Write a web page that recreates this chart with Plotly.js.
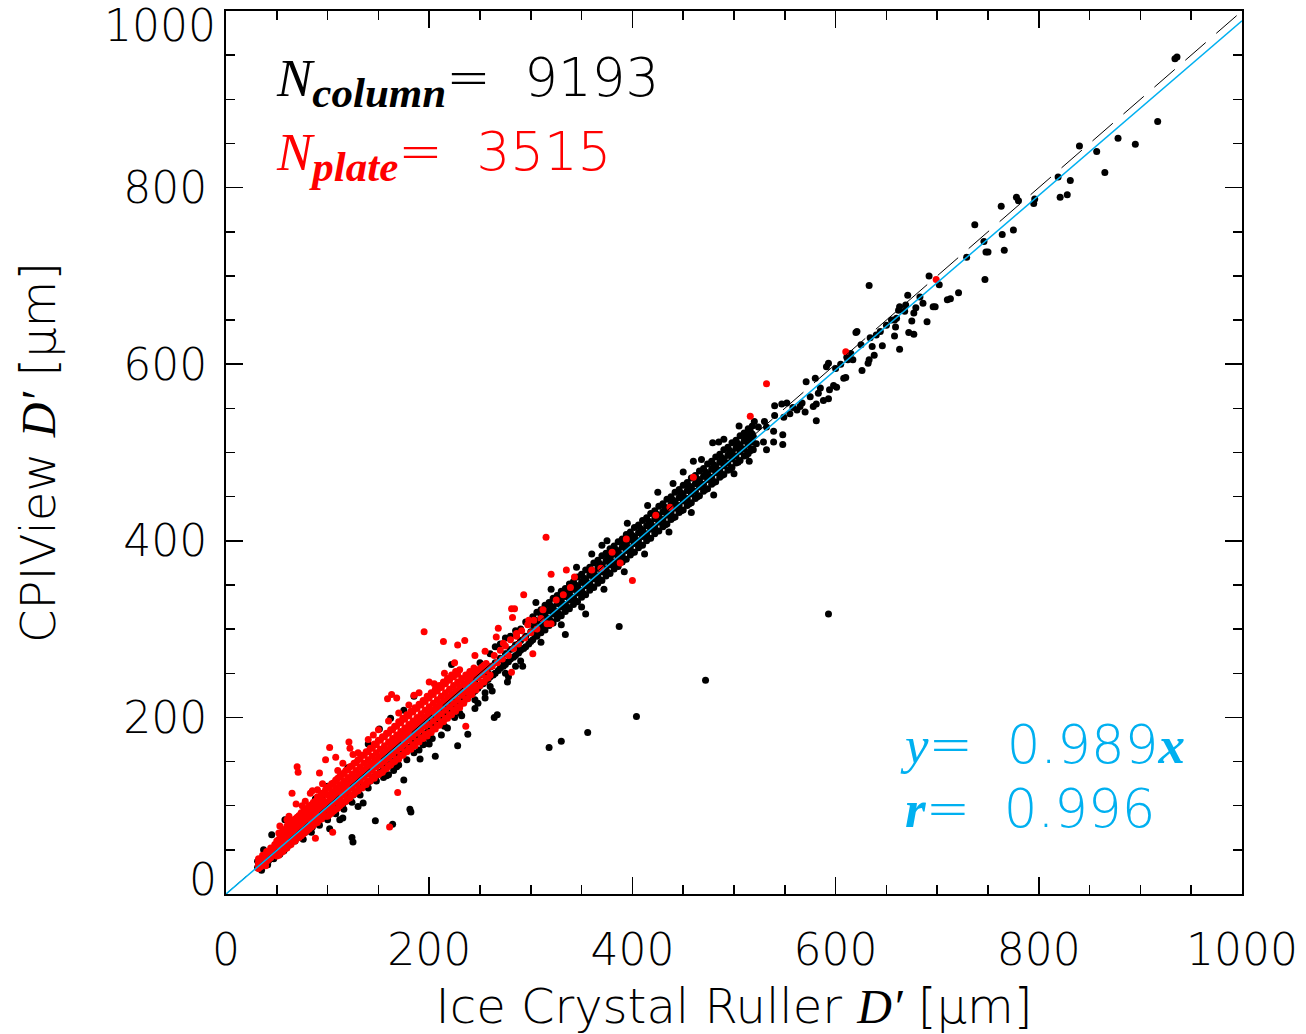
<!DOCTYPE html>
<html>
<head>
<meta charset="utf-8">
<script src="https://cdn.plot.ly/plotly-3.0.1.min.js"></script>
<style>
html,body{margin:0;padding:0;background:#fff;}
#chart{width:1306px;height:1034px;}
</style>
</head>
<body>
<div id="chart"></div>
<script>
// ---------------- DATA ----------------
const nColumn = 9193;
const nPlate = 3515;
const fitSlope = 0.989;
const fitR = 0.996;

const xTickVals = [0, 200, 400, 600, 800, 1000];
const xTickText = ["0", "200", "400", "600", "800", "1000"];
const yTickValsMid = [200, 400, 600, 800];
const yTickTextMid = ["200", "400", "600", "800"];
const yTickValsLow = [0];
const yTickTextLow = ["0"];
const yTickValsHigh = [1000];
const yTickTextHigh = ["1000"];

// column crystals (black), [x, y] in µm
const columnPts = [
[31,30],[33,29],[34,33],[36,33],[38,35],[40,37],[42,38],[44,40],[46,44],[48,43],[50,46],[52,49],[54,50],[56,52],[58,54],[60,55],
[37,50],[45,67],[58,84],[31,37],[35,27],[41,33],[47,40],[53,45],[57,49],[62,56],[64,58],[66,62],[68,60],[70,64],
[72,64],[75,68],[78,70],[80,72],[82,75],[85,76],[88,80],[90,80],[92,84],[95,86],[98,88],[100,90],[102,91],[105,94],[108,96],
[110,98],[112,100],[115,102],[118,105],[120,108],[122,110],[125,112],[128,114],[130,116],[132,120],[135,122],[138,124],
[140,127],[142,128],[145,132],[148,134],[150,136],
[76,62],[84,70],[92,78],[100,84],[108,91],[116,96],[124,104],[132,112],[140,120],[148,128],
[102,74],[112,84],[115,86],[124,64],[125,59],[130,99],[135,103],[147,83],[164,79],[160,135],[175,129],[181,96],[182,93],
[94,110],[80,96],[66,80],[72,88],[162,199],[175,208],[185,224],[151,187],[140,170],[120,143],[100,122],[88,108],
[152,138],[155,141],[158,144],[160,146],[163,148],[165,150],[168,153],[170,156],[173,158],[175,160],[178,163],[180,166],
[183,168],[185,170],[188,173],[190,176],[193,178],[195,180],[198,183],[200,186],[203,188],[205,190],[208,193],[210,196],
[213,198],[215,200],[218,203],[220,206],[223,208],[225,210],[228,213],[230,216],[233,218],[235,220],[238,223],[240,226],
[243,228],[245,230],[248,233],[250,236],[253,238],[255,240],[258,243],[260,246],[263,248],[265,250],[268,253],[270,256],
[273,258],[275,260],[278,263],[280,266],[283,268],[285,270],[288,273],[290,276],[293,278],[295,280],[298,283],[300,286],
[158,134],[170,146],[185,160],[200,176],[215,190],[230,205],[245,220],[260,235],[275,250],[290,264],[165,140],[195,170],
[225,200],[255,228],[285,258],
[155,132],[168,144],[178,152],[190,163],[203,176],[218,188],[232,202],[248,216],[262,230],[278,246],[292,258],
[183,175],[198,190],[213,205],[228,219],[243,236],[258,250],[273,264],[288,280],
[155,153],[165,163],[175,173],[185,183],[195,193],[205,203],[215,213],[225,222],[235,232],[245,242],[255,252],[265,262],
[275,272],[285,282],[295,292],[160,158],[170,168],[180,178],[190,188],[200,198],[210,208],[220,218],[230,228],[240,238],
[250,248],[260,257],[270,267],[280,277],[290,287],[300,297],
[240,250],[250,262],[260,272],[270,283],[280,292],[290,300],[300,310],[265,280],[275,290],[285,298],[295,308],
[194,169],[206,156],[191,153],[228,168],[238,181],[222,260],[264,200],[267,203],[277,240],[245,210],[255,222],[212,180],[200,170],
[302,288],[302,297],[302,305],[302,314],[306,292],[306,301],[306,309],[306,319],[310,296],[310,304],[310,313],[310,322],
[314,299],[314,309],[314,316],[314,327],[318,304],[318,312],[318,321],[318,330],[322,307],[322,317],[322,324],[322,335],
[326,312],[326,320],[326,329],[326,338],[330,315],[330,325],[330,332],[330,343],[334,320],[334,328],[334,337],[334,346],
[338,323],[338,333],[338,340],[338,351],[342,328],[342,336],[342,345],[342,354],[346,331],[346,341],[346,348],[346,359],
[350,336],[350,344],[350,353],[350,362],[354,339],[354,349],[354,356],[354,367],[358,344],[358,352],[358,361],[358,370],
[362,347],[362,357],[362,364],[362,375],[366,352],[366,360],[366,369],[366,378],[370,355],[370,365],[370,372],[370,383],
[374,360],[374,368],[374,377],[374,386],[378,363],[378,373],[378,380],[378,391],[382,368],[382,376],[382,385],[382,394],
[386,371],[386,381],[386,388],[386,399],[390,376],[390,384],[390,393],[390,402],[394,379],[394,389],[394,396],[394,407],
[398,384],[398,392],[398,401],[398,410],[402,387],[402,397],[402,404],[402,415],[406,392],[406,400],[406,409],[406,418],
[410,395],[410,405],[410,412],[410,423],[414,400],[414,408],[414,417],[414,426],[418,403],[418,413],[418,420],[418,431],
[422,408],[422,416],[422,425],[422,434],[426,411],[426,421],[426,428],[426,439],[430,416],[430,424],[430,433],[430,442],
[434,419],[434,429],[434,436],[434,447],[438,424],[438,432],[438,441],[438,450],[442,427],[442,437],[442,444],[442,455],
[446,432],[446,440],[446,449],[446,458],[450,435],[450,445],[450,452],[450,463],[454,440],[454,448],[454,457],[454,466],
[458,443],[458,453],[458,460],[458,471],[462,448],[462,456],[462,465],[462,474],[466,451],[466,461],[466,468],[466,479],
[470,456],[470,464],[470,473],[470,482],[474,459],[474,469],[474,476],[474,487],[478,464],[478,472],[478,481],[478,490],
[482,467],[482,477],[482,484],[482,495],[486,472],[486,480],[486,489],[486,498],[490,475],[490,485],[490,492],[490,503],
[494,480],[494,488],[494,497],[494,506],[498,483],[498,493],[498,500],[498,511],[502,488],[502,496],[502,505],[502,514],
[506,491],[506,501],[506,508],[506,519],[510,496],[510,504],[510,513],[510,522],[514,499],[514,509],[514,516],[514,527],
[518,504],[518,512],[518,521],[518,530],
[304,294],[304,310],[312,302],[312,318],[320,309],[320,326],[328,317],[328,334],[336,325],[336,342],[344,332],[344,350],
[352,340],[352,358],[360,348],[360,366],[368,356],[368,374],[376,364],[376,382],[384,372],[384,390],[392,379],[392,398],
[400,387],[400,406],[408,395],[408,414],[416,403],[416,422],[424,411],[424,430],[432,418],[432,438],[440,426],[440,446],
[448,434],[448,454],[456,442],[456,462],[464,450],[464,470],[472,458],[472,478],[480,466],[480,486],[488,474],[488,494],
[496,481],[496,502],[504,489],[504,510],[512,497],[512,518],[516,502],[516,524],
[305,330],[320,345],[345,370],[360,385],[375,400],[395,420],[415,440],[440,465],[460,490],[485,512],[310,285],[330,305],
[350,325],[372,345],[392,365],[412,385],[436,410],[458,432],[480,452],[500,476],[515,490],[505,530],[370,395],[425,455],
[450,478],[468,492],[490,515],
[318,166],[330,173],[356,183],[387,303],[354,317],[334,294],[404,201],[472,242],[593,317],
[540,553],[547,555],[552,556],[558,551],[540,542],[549,540],[555,544],[562,548],[565,552],[539,524],[548,520],[548,509],
[539,512],[520,535],[530,535],[524,529],[532,529],[512,518],[519,518],[522,510],[529,512],[532,503],[519,503],[479,511],
[567,556],[570,546],[578,552],[581,555],[575,563],[583,567],[585,573],[588,559],[594,571],[571,580],[580,584],[581,536],
[598,576],[601,574],[593,561],[608,584],[610,585],[593,601],[591,597],[612,605],[611,608],[617,605],[626,593],[632,601],
[633,605],[638,610],[620,636],[621,637],[634,630],[636,620],[644,637],[646,621],[663,617],[677,634],[672,636],[690,648],
[675,649],[659,642],[658,632],[658,650],[660,652],[663,665],[662,661],[669,667],[677,658],[679,664],[686,669],[696,665],
[698,665],[671,678],[710,673],[692,700],[633,689],
[600,595],[605,600],[615,612],[625,622],[640,633],[650,644],[655,650],[668,660],[683,676],[702,690],
[713,674],[721,681],[729,721],[737,758],[746,739],[747,696],[748,727],[750,727],[763,779],[764,747],[766,729],[775,752],
[778,789],[780,785],[795,782],[796,787],[819,812],[821,789],[828,792],[831,808],[840,847],[857,841],[865,817],[878,856],
[895,849],[917,875],[934,946],[936,948]
];

// plate crystals (red), [x, y] in µm
const platePts = [
[32,29],[32,32],[32,36],[32,40],[36,33],[36,36],[36,40],[36,44],[40,37],[40,40],[40,44],[40,48],[44,41],[44,44],[44,48],[44,52],
[48,45],[48,48],[48,52],[48,56],
[52,44],[52,50],[52,56],[52,62],[52,69],[56,48],[56,54],[56,60],[56,66],[56,73],[60,52],[60,58],[60,64],[60,70],[60,77],
[64,56],[64,62],[64,68],[64,74],[64,81],[68,60],[68,66],[68,72],[68,78],[68,85],[72,64],[72,70],[72,76],[72,82],[72,89],
[76,68],[76,74],[76,80],[76,86],[76,93],[80,72],[80,78],[80,84],[80,90],[80,97],[84,76],[84,82],[84,88],[84,94],[84,101],
[88,80],[88,86],[88,92],[88,98],[88,105],[92,84],[92,90],[92,96],[92,102],[92,109],[96,88],[96,94],[96,100],[96,106],[96,113],
[100,88],[100,96],[100,104],[100,112],[100,121],[104,92],[104,100],[104,108],[104,116],[104,125],[108,96],[108,104],[108,112],[108,120],[108,129],
[112,100],[112,108],[112,116],[112,124],[112,133],[116,104],[116,112],[116,120],[116,128],[116,137],[120,108],[120,116],[120,124],[120,132],[120,141],
[124,112],[124,120],[124,128],[124,136],[124,145],[128,116],[128,124],[128,132],[128,140],[128,149],[132,120],[132,128],[132,136],[132,144],[132,153],
[136,124],[136,132],[136,140],[136,148],[136,157],[140,128],[140,136],[140,144],[140,152],[140,161],[144,132],[144,140],[144,148],[144,156],[144,165],
[148,136],[148,144],[148,152],[148,160],[148,169],[152,137],[152,146],[152,155],[152,164],[152,174],[156,141],[156,150],[156,159],[156,168],[156,178],
[160,145],[160,154],[160,163],[160,172],[160,182],[164,149],[164,158],[164,167],[164,176],[164,186],[168,153],[168,162],[168,171],[168,180],[168,190],
[172,157],[172,166],[172,175],[172,184],[172,194],[176,161],[176,170],[176,179],[176,188],[176,198],[180,165],[180,174],[180,183],[180,192],[180,202],
[184,169],[184,178],[184,187],[184,196],[184,206],[188,173],[188,182],[188,191],[188,200],[188,210],[192,177],[192,186],[192,195],[192,204],[192,214],
[196,181],[196,190],[196,199],[196,208],[196,218],[200,183],[200,192],[200,202],[200,212],[200,222],[204,187],[204,196],[204,206],[204,216],[204,226],
[208,191],[208,200],[208,210],[208,220],[208,230],[212,195],[212,204],[212,214],[212,224],[212,234],[216,199],[216,208],[216,218],[216,228],[216,238],
[220,203],[220,212],[220,222],[220,232],[220,242],[224,208],[224,216],[224,226],[224,236],[224,246],[228,212],[228,220],[228,230],[228,240],[228,249],
[232,216],[232,225],[232,234],[232,244],[236,221],[236,229],[236,238],[236,248],[240,226],[240,233],[240,242],[240,252],
[244,231],[244,238],[244,247],[244,256],[248,236],[248,245],[248,253],[252,240],[252,249],[252,257],[256,244],[256,253],[256,261],
[260,248],[260,258],
[34,31],[34,38],[42,39],[42,46],[50,43],[50,53],[50,60],[54,47],[54,58],[54,66],[58,51],[58,62],[58,72],[62,55],[62,66],[62,78],
[66,60],[66,70],[66,83],[70,63],[70,74],[70,87],[74,66],[74,79],[74,92],[78,70],[78,83],[78,96],[82,74],[82,87],[82,100],
[86,78],[86,91],[86,104],[90,81],[90,95],[90,110],[94,85],[94,99],[94,114],[98,88],[98,103],[98,118],[102,90],[102,106],[102,122],
[106,94],[106,110],[106,126],[110,97],[110,114],[110,131],[114,102],[114,118],[114,135],[118,105],[118,122],[118,140],
[122,109],[122,126],[122,144],[126,113],[126,130],[126,148],[130,117],[130,134],[130,152],[134,120],[134,138],[134,157],
[138,124],[138,142],[138,161],[142,128],[142,146],[142,165],[146,131],[146,150],[146,170],[150,135],[150,154],[150,174],
[154,138],[154,158],[154,178],[158,142],[158,162],[158,182],[162,146],[162,166],[162,186],[166,150],[166,170],[166,190],
[170,153],[170,174],[170,195],[174,157],[174,178],[174,199],[178,161],[178,182],[178,203],[182,164],[182,186],[182,207],
[186,168],[186,190],[186,211],[190,172],[190,194],[190,215],[194,176],[194,198],[194,219],[198,179],[198,202],[198,224],
[202,183],[202,206],[202,228],[206,187],[206,210],[206,232],[210,191],[210,214],[210,236],[214,195],[214,218],[214,240],
[218,199],[218,222],[218,244],[222,203],[222,226],[222,248],[226,207],[226,230],[226,252],[230,211],[230,234],[230,254],
[234,216],[234,238],[238,221],[238,244],[242,226],[242,248],[246,231],[246,251],[250,236],[250,255],[254,240],[254,259],[258,245],
[60,84],[75,100],[90,118],[110,140],[125,158],[140,175],[150,186],[170,205],[180,214],[190,228],[205,238],[215,250],
[225,262],[245,270],[255,275],[130,160],[115,148],[95,125],[78,105],[62,88],[200,240],[185,225],[160,196],[145,180],
[262,258],[264,270],[267,262],[270,276],[272,266],[275,281],[278,270],[280,288],[283,278],[286,292],[288,283],[291,298],
[294,290],[297,305],[300,296],[303,310],[306,300],[310,312],[312,322],[316,306],[320,306],[325,333],[332,339],[339,347],
[343,359],[360,367],[369,369],[298,310],[286,295],[273,284],[266,291],
[163,226],[159,221],[168,222],[102,166],[70,144],[71,138],[65,114],[92,137],[108,155],[121,172],[122,165],[98,152],
[83,114],[85,117],[69,102],[169,115],[161,76],[88,63],[105,70],[53,77],[39,32],
[315,404],[320,362],[335,367],[293,339],[400,355],[195,297],[214,286],[235,287],[228,282],[281,323],[284,323],[282,313],
[268,301],[281,251],[236,190],[302,272],[394,402],[380,387],[388,375],[423,429],[437,438],[460,472],[532,578],[516,541],
[610,614],[699,696]
];

// ---------------- CHART ----------------
const tickFont = {family: 'DejaVu Sans', size: 44, color: '#000', weight: 200};
const titleFont = {family: 'DejaVu Sans', size: 48, color: '#000', weight: 200};
const annFont = {family: 'DejaVu Sans', size: 53, weight: 200};
const serif = (s) => '<span style="font-family:\'Liberation Serif\';font-weight:normal">' + s + '</span>';
const subTxt = (s) => '<sub><span style="font-family:\'Liberation Serif\';font-size:43px"><b><i>' + s + '</i></b></span></sub>';

const lineX = [0, 1000];
const markerSize = 7;

const traces = [
  {type: 'scatter', mode: 'markers', x: columnPts.map(p => p[0]), y: columnPts.map(p => p[1]),
   marker: {color: '#000000', size: markerSize, line: {width: 0}}, hoverinfo: 'skip', showlegend: false},
  {type: 'scatter', mode: 'markers', x: platePts.map(p => p[0]), y: platePts.map(p => p[1]),
   marker: {color: '#ff0000', size: markerSize, line: {width: 0}}, hoverinfo: 'skip', showlegend: false},
  {type: 'scatter', mode: 'lines', x: lineX, y: lineX,
   line: {color: '#000000', width: 1, dash: '27px,14px'}, hoverinfo: 'skip', showlegend: false},
  {type: 'scatter', mode: 'lines', x: lineX, y: lineX.map(v => v * fitSlope),
   line: {color: '#00b0f0', width: 1.5}, hoverinfo: 'skip', showlegend: false},
  {type: 'scatter', mode: 'markers', x: [], y: [], yaxis: 'y2', showlegend: false, hoverinfo: 'skip'}
];

const axCommon = {
  range: [0, 1000], showgrid: false, zeroline: false, automargin: false,
  ticks: 'inside', ticklen: 17, tickwidth: 1.5, tickcolor: '#000',
  showline: true, linewidth: 2, linecolor: '#000', mirror: 'ticks',
  minor: {dtick: 50, tick0: 0, ticks: 'inside', ticklen: 9, tickwidth: 1.5, tickcolor: '#000', showgrid: false},
  tickfont: tickFont, tickmode: 'array'
};

const layout = {
  width: 1306, height: 1034,
  margin: {l: 226, r: 64, t: 11, b: 140},
  paper_bgcolor: '#ffffff', plot_bgcolor: '#ffffff',
  showlegend: false,
  xaxis: Object.assign({}, axCommon, {
    tickvals: xTickVals, ticktext: xTickText, ticklabelstandoff: 16,
    title: {text: 'Ice Crystal Ruller ' + serif('<i>D′</i>') + ' [μm]', font: titleFont, standoff: 18}
  }),
  yaxis: Object.assign({}, axCommon, {
    tickvals: yTickValsMid, ticktext: yTickTextMid, ticklabelstandoff: 8,
    title: {text: 'CPIView ' + serif('<i>D′</i>') + ' [μm]', font: titleFont, standoff: 52}
  }),
  yaxis2: {
    overlaying: 'y', side: 'left', range: [0, 1000], showgrid: false, zeroline: false, showline: false,
    ticks: '', automargin: false, tickfont: tickFont, tickmode: 'array', ticklabelstandoff: 8,
    tickvals: yTickValsLow, ticktext: yTickTextLow, ticklabelshift: -14
  },
  annotations: [
    {xref: 'paper', yref: 'y', x: 0, y: yTickValsHigh[0], xanchor: 'right', yanchor: 'middle', xshift: -8, yshift: -14,
     showarrow: false, text: yTickTextHigh[0], font: tickFont},
    {xref: 'x', yref: 'y', x: 47, y: 962, xanchor: 'left', yanchor: 'top', showarrow: false,
     text: serif('<i>N</i>') + subTxt('column') + '=&nbsp;&nbsp;' + nColumn,
     font: Object.assign({}, annFont, {color: '#000000'})},
    {xref: 'x', yref: 'y', x: 47, y: 878, xanchor: 'left', yanchor: 'top', showarrow: false,
     text: serif('<i>N</i>') + subTxt('plate') + '=&nbsp;&nbsp;' + nPlate,
     font: Object.assign({}, annFont, {color: '#ff0000'})},
    {xref: 'x', yref: 'y', x: 661, y: 169, xanchor: 'left', yanchor: 'middle', showarrow: false,
     text: serif('<i>y</i>') + '=&nbsp;&nbsp;' + fitSlope.toFixed(3) + serif('<b><i>x</i></b>'),
     font: Object.assign({}, annFont, {color: '#00b0f0'})},
    {xref: 'x', yref: 'y', x: 666, y: 97, xanchor: 'left', yanchor: 'middle', showarrow: false,
     text: serif('<b><i>r</i></b>') + '=&nbsp;&nbsp;' + fitR.toFixed(3),
     font: Object.assign({}, annFont, {color: '#00b0f0'})}
  ]
};

Plotly.newPlot('chart', traces, layout, {staticPlot: true, displayModeBar: false});
</script>
</body>
</html>
